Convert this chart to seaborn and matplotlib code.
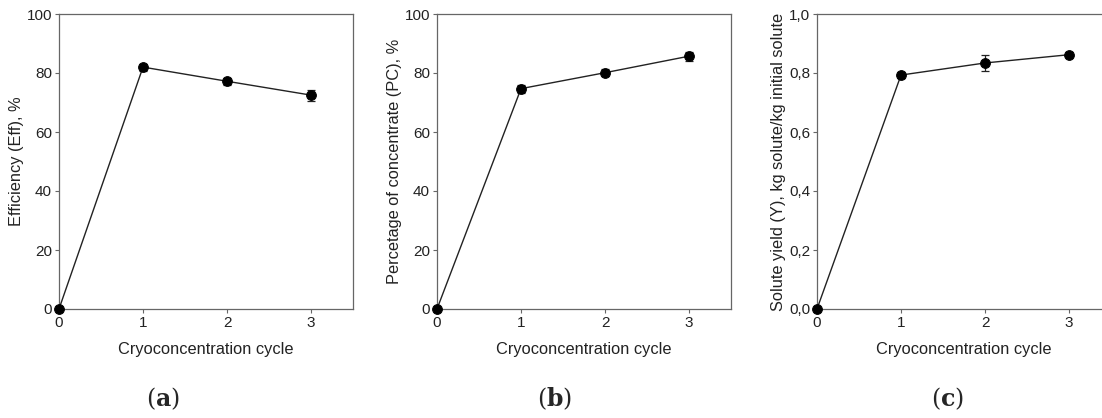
import matplotlib
matplotlib.use("Agg")
import matplotlib.pyplot as plt
import seaborn as sns
import pandas as pd

cycles = [0, 1, 2, 3]
eff = [0, 82.0, 77.2, 72.5]
eff_err = [0, 1.2, 1.1, 1.9]
pc = [0, 74.7, 80.1, 85.7]
pc_err = [0, 1.4, 1.1, 1.5]
yld = [0, 0.793, 0.834, 0.862]
yld_err = [0, 0.010, 0.027, 0.008]

ylabels = ["Efficiency (Eff), %",
           "Percetage of concentrate (PC), %",
           "Solute yield (Y), kg solute/kg initial solute"]
panel_tags = ["a", "b", "c"]
xlabel = "Cryoconcentration cycle"

sns.set_style("ticks")
plt.rcParams['font.family'] = ['Liberation Sans', 'DejaVu Sans']

fig = plt.figure(figsize=(11.02, 4.18), dpi=100)
W, H = 1102, 418
lefts = [59, 437, 817]
axw, top, bot = 294, 14, 309

series = [(eff, eff_err, 100, [0, 20, 40, 60, 80, 100], ["0", "20", "40", "60", "80", "100"]),
          (pc, pc_err, 100, [0, 20, 40, 60, 80, 100], ["0", "20", "40", "60", "80", "100"]),
          (yld, yld_err, 1.0, [0, 0.2, 0.4, 0.6, 0.8, 1.0], ["0,0", "0,2", "0,4", "0,6", "0,8", "1,0"])]
tag_x = [163, 555, 947]

spine_col = "#666666"
for i, (vals, errs, ymax, yt, ytl) in enumerate(series):
    ax = fig.add_axes([lefts[i] / W, 1 - bot / H, axw / W, (bot - top) / H])
    df = pd.DataFrame({"x": cycles, "y": vals})
    ax.errorbar(cycles, vals, yerr=errs, fmt="none", ecolor="#222222",
                elinewidth=0.9, capsize=3.2, capthick=0.9, zorder=2)
    sns.lineplot(data=df, x="x", y="y", ax=ax, color="#222222", linewidth=1.0,
                 marker="o", markersize=7, markerfacecolor="black",
                 markeredgecolor="black", zorder=3, clip_on=False)
    ax.set_xlim(0, 3.5)
    ax.set_ylim(0, ymax)
    ax.set_xticks([0, 1, 2, 3])
    ax.set_yticks(yt)
    ax.set_yticklabels(ytl)
    ax.set_xlabel(xlabel, fontsize=11.8, color="#222222", labelpad=9)
    ax.set_ylabel(ylabels[i], fontsize=11.8, color="#222222", labelpad=2)
    ax.tick_params(direction="out", length=3, width=0.8, colors=spine_col,
                   labelcolor="#222222", labelsize=11, pad=2)
    for s in ax.spines.values():
        s.set_color(spine_col)
        s.set_linewidth(0.9)
        s.set_visible(True)
    fig.text(tag_x[i] / W, 1 - 399 / H, "($\\mathbf{" + panel_tags[i] + "}$)",
             fontsize=17, family="DejaVu Serif", ha="center", va="center",
             math_fontfamily="dejavuserif")

fig.savefig("out.png", dpi=100)
